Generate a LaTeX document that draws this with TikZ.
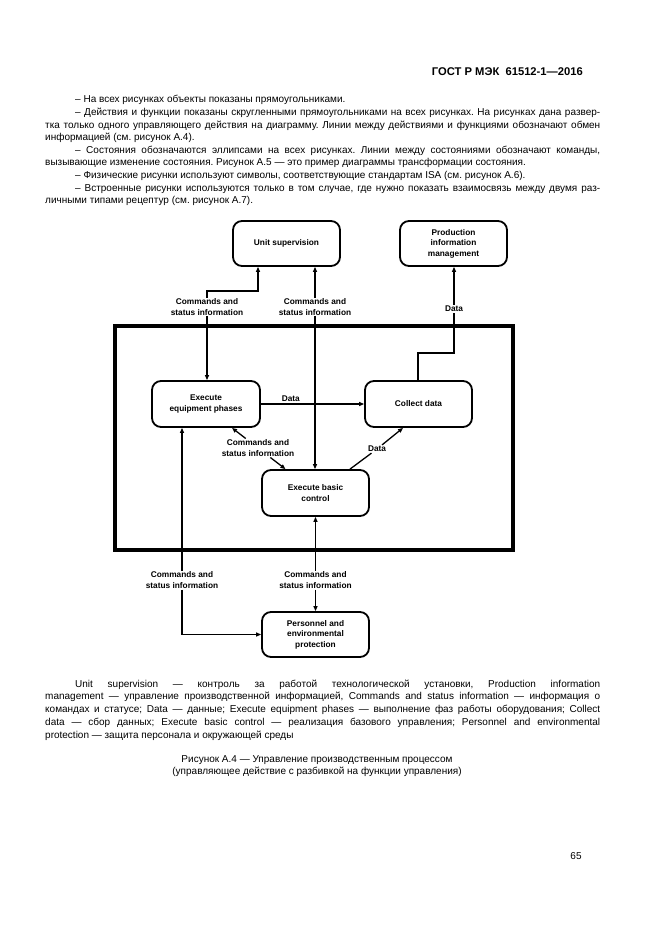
\documentclass[tikz,border=0pt]{standalone}
\usepackage{fontspec}
\setmainfont{Liberation Sans}
\usepackage{tikz}
\usetikzlibrary{arrows.meta,positioning}

\newcommand\lblfont{\fontsize{8.3}{10.5}\selectfont\bfseries}
\newcommand\txtfont{\fontsize{10}{12}\selectfont\frenchspacing}
\newcommand\headfont{\fontsize{11.2}{13}\selectfont\bfseries}

\begin{document}
\begin{tikzpicture}[x=1pt,y=-1pt,
    func/.style={draw,line width=1.8pt,rounded corners=9pt,align=center,font=\lblfont,
        inner sep=0pt,minimum width=107pt,minimum height=45pt},
    frm/.style={line width=3.2pt},
    conn/.style={line width=1.3pt},
    tip/.style={conn,-{Triangle[length=5pt,width=4pt]}},
    lbl/.style={font=\lblfont,align=center,inner sep=1pt},
    txt/.style={font=\txtfont,anchor=base west,inner sep=0pt}]
    \useasboundingbox (0,0) rectangle (661,936);

    % header and text above the figure
    \node[anchor=base east,inner sep=0pt,font=\headfont] (head) at (583,76) {ГОСТ Р МЭК\ \ 61512-1—2016};
    \node[txt] (l1) at (75,103) {– На всех рисунках объекты показаны прямоугольниками.};
    \node[txt] (l2) at (75,115.6) {\makebox[525pt][s]{– Действия и функции показаны скругленными прямоугольниками на всех рисунках. На рисунках дана развер-}};
    \node[txt] (l3) at (45,128.2) {\makebox[555pt][s]{тка только одного управляющего действия на диаграмму. Линии между действиями и функциями обозначают обмен}};
    \node[txt] (l4) at (45,140.8) {информацией (см. рисунок А.4).};
    \node[txt] (l5) at (75,153.4) {\makebox[525pt][s]{– Состояния обозначаются эллипсами на всех рисунках. Линии между состояниями обозначают команды,}};
    \node[txt] (l6) at (45,166) {вызывающие изменение состояния. Рисунок А.5 — это пример диаграммы трансформации состояния.};
    \node[txt] (l7) at (75,178.6) {– Физические рисунки используют символы, соответствующие стандартам ISA (см. рисунок А.6).};
    \node[txt] (l8) at (75,191.2) {\makebox[525pt][s]{– Встроенные рисунки используются только в том случае, где нужно показать взаимосвязь между двумя раз-}};
    \node[txt] (l9) at (45,203.8) {личными типами рецептур (см. рисунок А.7).};

    % functions
    \node[func] (us) at (286.5,243.5) {Unit supervision};
    \node[func] (pim) at (453.5,243.5) {Production\\information\\management};
    \node[func,minimum width=108pt,minimum height=46pt] (eep) at (206,404) {Execute\\equipment phases};
    \node[func,minimum height=46pt] (cd) at (418.5,404) {Collect data};
    \node[func,minimum height=46pt] (ebc) at (315.5,493) {Execute basic\\control};
    \node[func] (pep) at (315.5,634.5) {Personnel and\\environmental\\protection};
    \draw[frm] (115,326) rectangle (513,550);

    % connectors
    \node[lbl] (c1) at (207,307) {Commands and\\status information};
    \node[lbl] (c2) at (315,307) {Commands and\\status information};
    \node[lbl] (d1) at (454,309) {Data};
    \coordinate (j1) at (258,291);
    \coordinate (j2) at (418,353);
    \draw[tip] (c1) -- (c1 |- eep.north);
    \draw[tip] (c1.north) |- (j1) -- (j1 |- us.south);
    \draw[tip] (c2) -- (c2 |- us.south);
    \draw[tip] (c2) -- (c2 |- ebc.north);
    \draw[tip] (d1) -- (d1 |- pim.south);
    \draw[conn] (d1) |- (j2) -- (j2 |- cd.north);

    \draw[tip] (eep) -- (cd) node[lbl,pos=0.29,above=1pt] (d2) {Data};

    \node[lbl] (c3) at (258,448) {Commands and\\status information};
    \draw[tip] (c3) -- ([xshift=26pt]eep.south);
    \draw[tip] (c3) -- ([xshift=-30pt]ebc.north);
    \node[lbl] (d3) at (377,449) {Data};
    \draw[tip] (d3) -- ([xshift=-15.5pt]cd.south);
    \draw[conn] (d3) -- ([xshift=34.5pt]ebc.north);

    \node[lbl] (c4) at (182,580) {Commands and\\status information};
    \node[lbl] (c5) at (315.5,580) {Commands and\\status information};
    \draw[tip] (c4) -- (c4 |- eep.south);
    \draw[tip] (c4) |- (pep.west);
    \draw[tip] (c5) -- (c5 |- ebc.south);
    \draw[tip] (c5) -- (c5 |- pep.north);

    % legend, caption, page number
    \node[txt] (f1) at (75,687) {\makebox[525pt][s]{Unit supervision — контроль за работой технологической установки, Production information}};
    \node[txt] (f2) at (45,699.8) {\makebox[555pt][s]{management — управление производственной информацией, Commands and status information — информация о}};
    \node[txt] (f3) at (45,712.6) {\makebox[555pt][s]{командах и статусе; Data — данные; Execute equipment phases — выполнение фаз работы оборудования; Collect}};
    \node[txt] (f4) at (45,725.4) {\makebox[555pt][s]{data — сбор данных; Execute basic control — реализация базового управления; Personnel and environmental}};
    \node[txt] (f5) at (45,738.2) {protection — защита персонала и окружающей среды};
    \node[txt,anchor=base] (cap1) at (317,762) {Рисунок А.4 — Управление производственным процессом};
    \node[txt,anchor=base] (cap2) at (317,774.6) {(управляющее действие с разбивкой на функции управления)};
    \node[txt,anchor=base] (pg) at (576,859) {65};
\end{tikzpicture}
\end{document}
